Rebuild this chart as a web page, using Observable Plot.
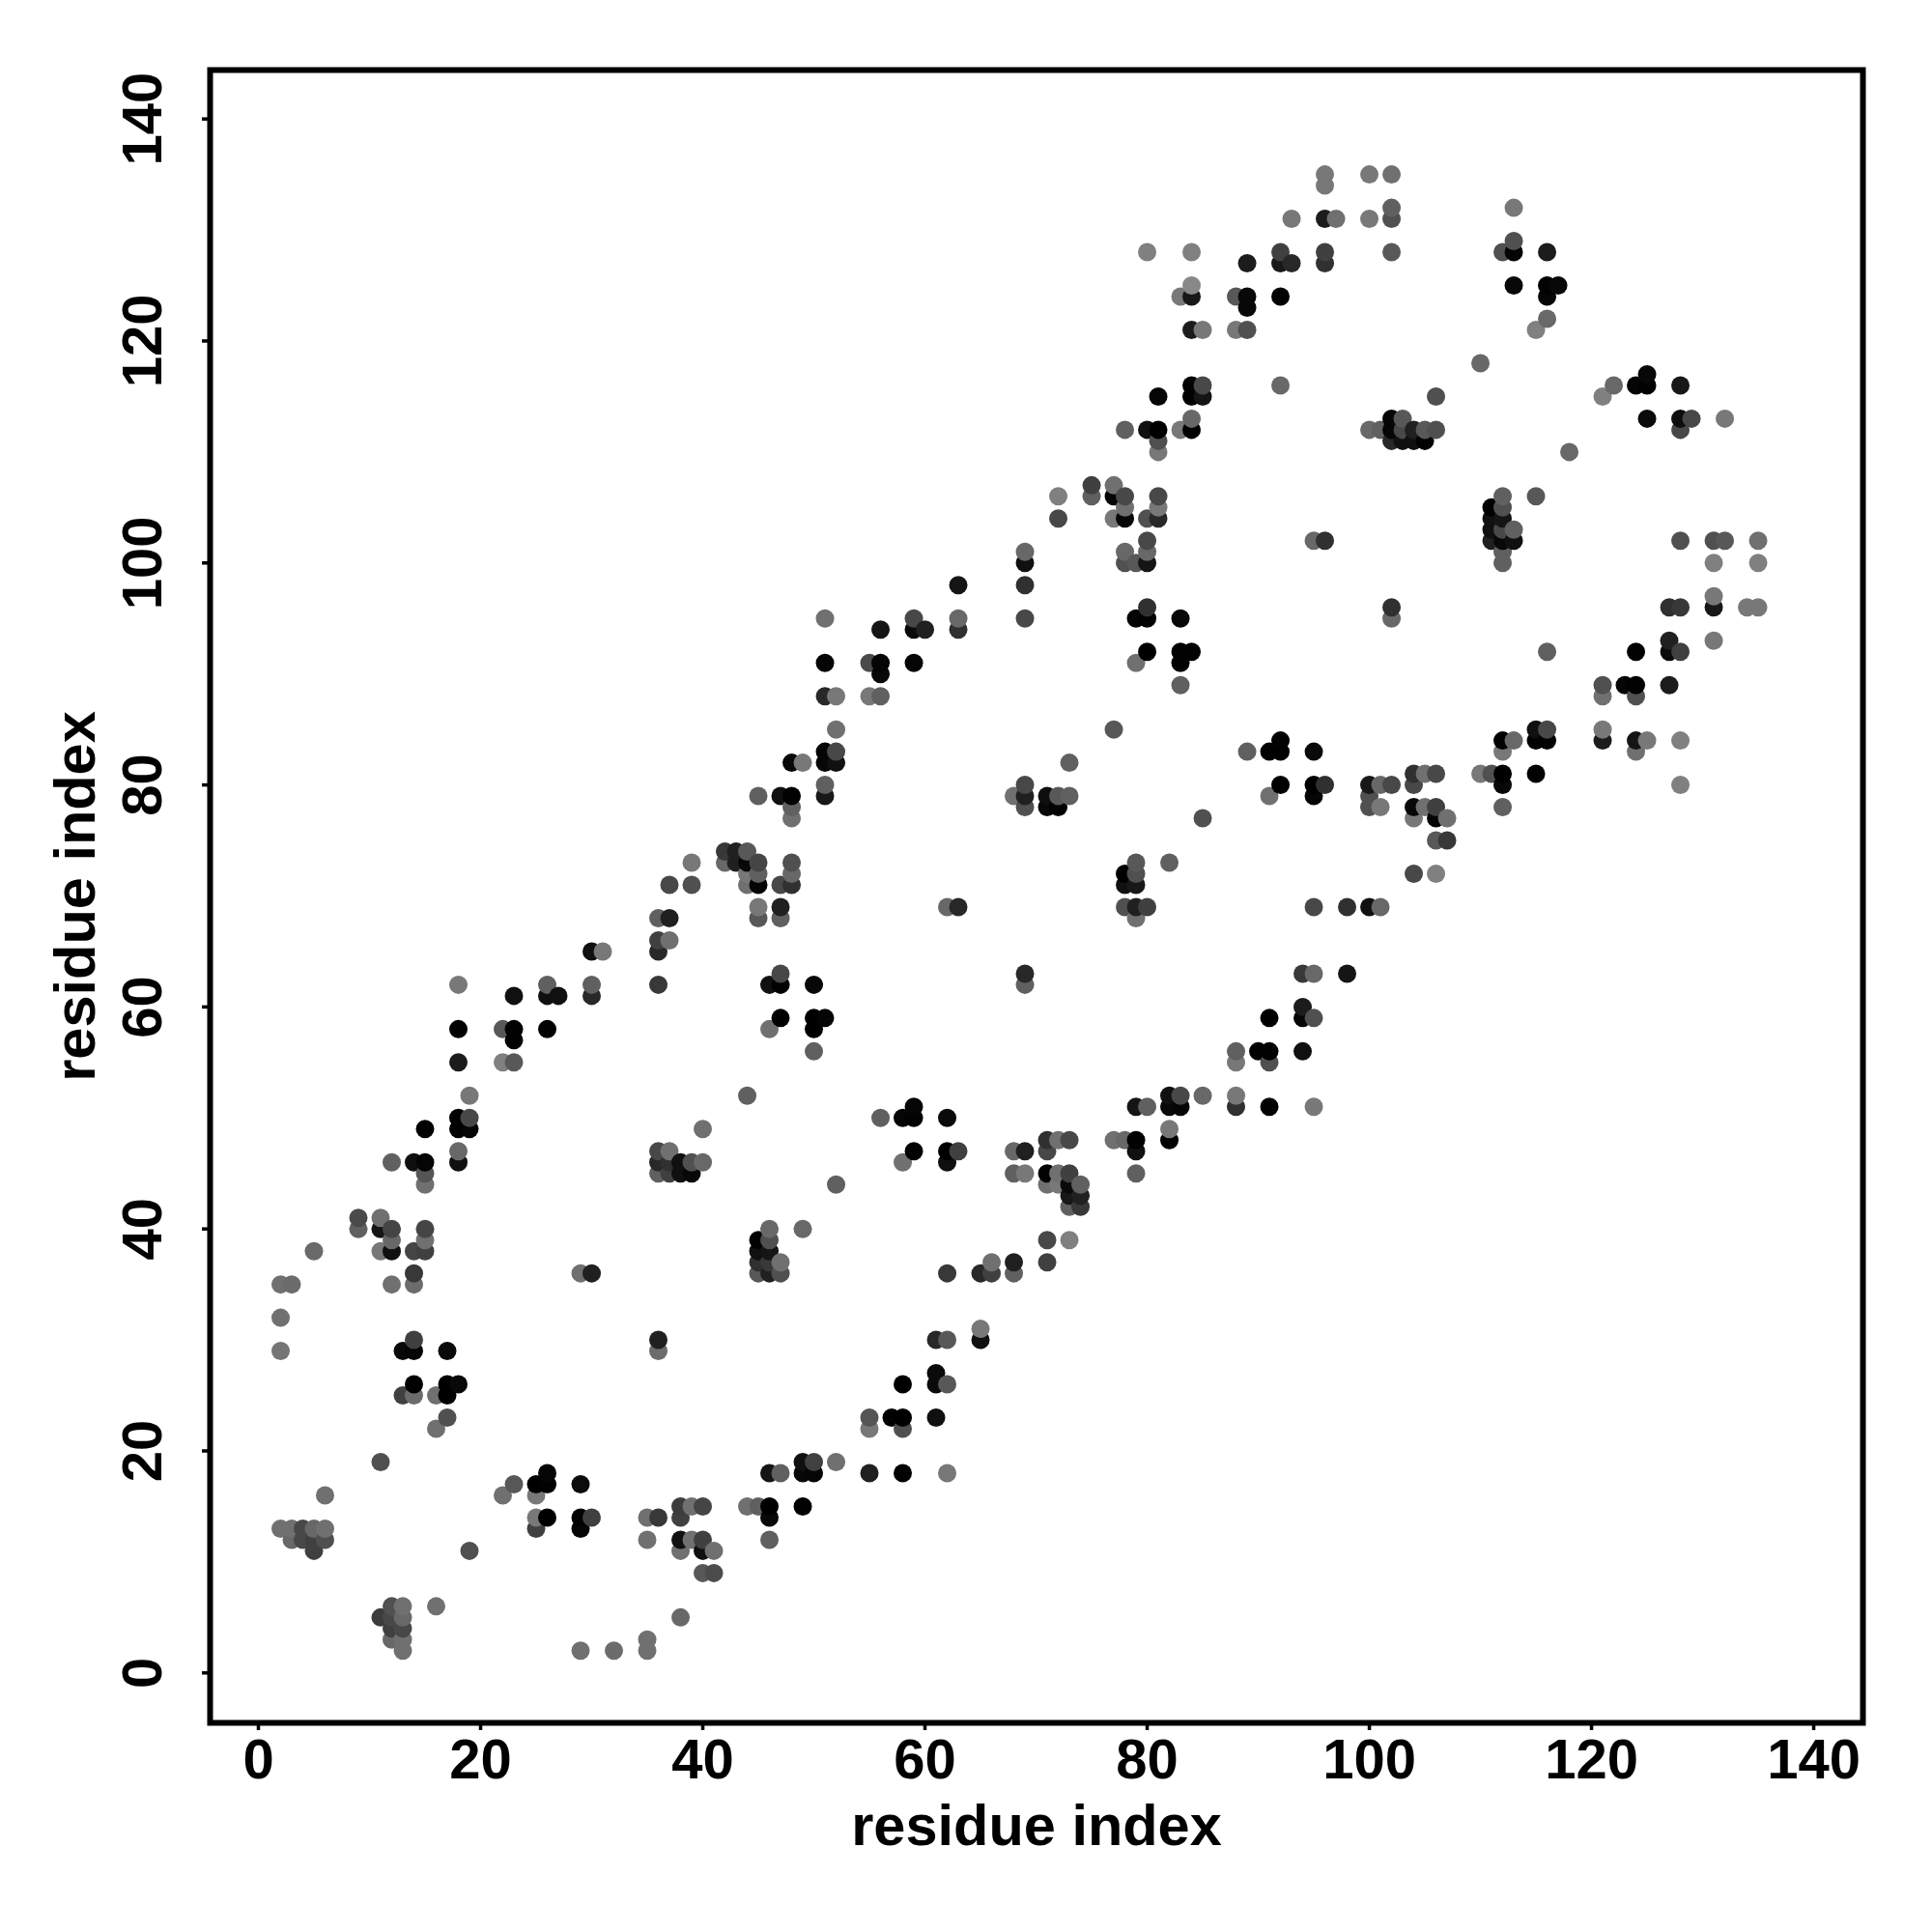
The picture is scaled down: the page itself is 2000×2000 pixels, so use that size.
<!DOCTYPE html>
<html>
<head>
<meta charset="utf-8">
<script src="https://cdn.jsdelivr.net/npm/d3@7"></script>
<script src="https://cdn.jsdelivr.net/npm/@observablehq/plot@0.6"></script>
<style>html,body{margin:0;padding:0;background:#fff}</style>
</head>
<body>
<div id="chart"></div>
<script>
const residues = [2,3,4,5,6,9,11,12,13,14,15,16,17,18,19,22,23,25,26,27,29,30,31,32,35,36,37,38,39,40,41,42,43,44,45,46,47,48,49,50,51,52,55,56,57,58,59,60,61,62,63,65,66,68,69,71,72,73,74,75,77,78,79,80,81,82,83,84,85,88,89,90,91,92,93,94,95,96,97,98,100,101,102,103,104,105,106,107,110,111,112,113,115,116,117,118,121,122,123,124,125,127,128,129,131,132,134,135];
const partners = [
[13,29,32,35],[12,13,35],[12,13],[11,12,13,38],[12,13,16],[40,41],[5,19,38,40,41],
[3,4,5,6,35,38,39,40,46],[2,3,4,5,6,25,29],[25,26,29,30,35,36,38,46],[38,39,40,44,45,46,49],
[6,22,25],[23,25,26,29],[26,46,47,49,50,55,58,62],[11,49,50,52],[16,55,58],[17,55,57,58,61],
[13,14,16,17],[14,17,18,58,61,62],[61],[2,13,14,17,36],[14,36,61,62,65],[65],[2],[2,3,12,14],
[14,29,30,45,46,47,62,65,66,68],[45,46,47,66,68,71],[5,11,12,14,15,45,46],[12,15,45,46,71,73],
[9,11,12,15,46,49],[9,11],[73,74],[73,74],[15,52,71,72,73,74],
[15,36,37,38,39,68,69,71,72,73,79],[12,14,15,18,36,37,38,39,40,58,62],[18,36,37,59,62,63,68,69,71,79],
[71,72,73,77,78,79,82],[15,18,19,40,82],[18,19,56,58,59,62],[59,79,80,82,83,88,91,95],[19,44,82,83,85,88],
[18,22,23,88,91],[50,88,90,91,94],[23],[18,22,23,26,46,50],[47,50,51,91,94,95],[94],[23,26,27,30],
[18,26,30,36,46,47,50,69],[47,69,94,95,98],[30,31,36],[36,37],[36,37,45,47,79],
[45,47,62,63,78,79,80,95,98,100,101],[37,39,44,45,47,48,78,79],[44,45,48,78,79,104,106],
[39,42,43,44,45,48,79,82],[42,43,44],[106,107],[48,85,104,106,107],[48,69,71,72,100,101,104,105,106,112],
[45,47,48,51,68,69,71,72,73,91,95,100],[51,69,92,95,96,100,101,102,104,112,128],[104,105,106,110,111,112,115],
[48,49,51,52,73],[51,52,89,91,92,95,112,124],[92,112,113,115,116,121,124,125,128],[52,77,115,116,121],
[51,52,55,56,121,124],[83,121,123,124,127],[56],[51,55,56,59,79,83],[80,83,84,116,124,127,128],[127,131],
[56,59,60,63],[51,59,63,69,79,80,83,102],[80,102,127,128,131,134,135],[131],[63,69],
[69,78,79,80,112,131,135],[69,78,80,112],[80,95,96,111,112,113,128,131,132,135],[111,112,113],
[72,77,78,80,81,111,112],[78,81,111,112],[72,75,77,78,81,112,115],[75,77],[81,118],[81,102,103,104,105],
[78,80,81,83,84,100,101,102,103,104,105,106,128],[84,102,103,125,128,129,132],[81,84,85,106,121],
[84,85,92,122,124,125,128],[125],[110],[84,85,88,89,115],[116],[89],[83,84,88,89,92,116],[84,113,116,117],
[89,92,93,96],[80,84,92,96,102,112,113,116],[113],[93,96,97,100,102],[102,113],[96],[96,100,102]
];
const shades = [
[0x70,0x75,0x70,0x70],[0x68,0x70,0x6c],[0x48,0x48],[0x40,0x40,0x68,0x6a],[0x50,0x70,0x70],[0x60,0x4a],[0x3c,0x50,0x78,0x15,0x70],
[0x68,0x40,0x48,0x50,0x70,0x10,0x68,0x45,0x60],[0x70,0x70,0x48,0x68,0x70,0x40,0x08],[0x6c,0x00,0x05,0x40,0x6c,0x38,0x45,0x10],[0x40,0x70,0x45,0x70,0x55,0x05,0x02],
[0x70,0x70,0x70],[0x50,0x00,0x00,0x0a],[0x08,0x10,0x68,0x02,0x02,0x1c,0x02,0x78],[0x50,0x05,0x48,0x78],[0x70,0x80,0x58],[0x58,0x58,0x02,0x02,0x10],
[0x40,0x78,0x78,0x00],[0x00,0x02,0x05,0x02,0x10,0x60],[0x10],[0x70,0x05,0x02,0x0c,0x70],[0x40,0x20,0x28,0x60,0x10],[0x78],[0x6c],[0x70,0x70,0x70,0x70],
[0x38,0x6c,0x20,0x60,0x28,0x48,0x38,0x28,0x40,0x60],[0x40,0x30,0x70,0x70,0x20,0x48],[0x68,0x70,0x10,0x40,0x3c,0x10,0x10],[0x70,0x70,0x08,0x50,0x50,0x78],
[0x58,0x10,0x40,0x45,0x68,0x70],[0x4c,0x70],[0x68,0x38],[0x20,0x20],[0x70,0x60,0x70,0x78,0x08,0x58],
[0x60,0x58,0x30,0x10,0x02,0x58,0x78,0x05,0x60,0x45,0x60],[0x60,0x08,0x00,0x15,0x20,0x38,0x15,0x50,0x68,0x70,0x10],[0x60,0x50,0x70,0x00,0x02,0x48,0x60,0x20,0x48,0x10],
[0x30,0x68,0x50,0x70,0x60,0x02,0x08],[0x02,0x08,0x10,0x68,0x78],[0x05,0x40,0x60,0x00,0x00,0x08],[0x05,0x18,0x60,0x08,0x05,0x28,0x05,0x70],[0x70,0x60,0x10,0x48,0x70,0x78],
[0x20,0x78,0x55,0x78,0x4a],[0x60,0x60,0x08,0x05,0x15],[0x02],[0x02,0x50,0x00,0x00,0x70,0x05],[0x02,0x02,0x05,0x05,0x0a,0x48],[0x20],[0x10,0x0a,0x0a,0x28],
[0x78,0x58,0x58,0x38,0x10,0x00,0x0a,0x68],[0x40,0x28,0x30,0x68,0x15],[0x10,0x78,0x28],[0x40,0x70],[0x60,0x20,0x60,0x68,0x70],
[0x78,0x20,0x60,0x28,0x50,0x20,0x48,0x48,0x30,0x10,0x68],[0x40,0x48,0x70,0x02,0x48,0x30,0x08,0x0e],[0x78,0x70,0x70,0x02,0x58,0x48,0x80],
[0x80,0x60,0x18,0x0a,0x40,0x48,0x60,0x60],[0x38,0x20,0x60],[0x60,0x40],[0x70,0x58,0x78,0x05,0x70],[0x68,0x50,0x10,0x00,0x50,0x68,0x08,0x70,0x48,0x60],
[0x60,0x10,0x02,0x15,0x70,0x20,0x18,0x50,0x58,0x70,0x05,0x58],[0x60,0x40,0x00,0x02,0x30,0x15,0x68,0x48,0x50,0x10,0x80],[0x28,0x78,0x48,0x78,0x50,0x00,0x05],
[0x02,0x78,0x08,0x10,0x60],[0x05,0x48,0x60,0x02,0x02,0x08,0x78,0x78],[0x02,0x02,0x68,0x02,0x02,0x1c,0x18,0x88,0x80],[0x68,0x50,0x15,0x48,0x78],
[0x30,0x78,0x78,0x60,0x78,0x58],[0x60,0x50,0x08,0x08,0x1c],[0x02],[0x02,0x50,0x02,0x00,0x70,0x02],[0x00,0x00,0x02,0x68,0x02,0x18,0x40],[0x28,0x78],
[0x10,0x05,0x1c,0x38],[0x78,0x50,0x68,0x48,0x05,0x00,0x0a,0x68],[0x30,0x30,0x30,0x40,0x1c,0x78,0x78],[0x70],[0x15,0x30],
[0x10,0x50,0x50,0x18,0x68,0x78,0x78],[0x68,0x78,0x68,0x60],[0x48,0x68,0x30,0x28,0x05,0x05,0x58,0x50,0x60,0x70],[0x10,0x48,0x58],
[0x48,0x78,0x08,0x48,0x30,0x10,0x20],[0x70,0x70,0x02,0x58],[0x80,0x58,0x05,0x40,0x48,0x50,0x50],[0x38,0x70],[0x78,0x68],[0x50,0x20,0x10,0x10,0x00],
[0x60,0x08,0x00,0x78,0x02,0x60,0x60,0x08,0x48,0x15,0x50,0x60,0x50],[0x68,0x10,0x60,0x08,0x05,0x50,0x78],[0x02,0x02,0x10,0x58,0x80],
[0x02,0x48,0x60,0x68,0x05,0x02,0x1c],[0x08],[0x68],[0x1c,0x78,0x70,0x50,0x80],[0x68],[0x05],[0x70,0x15,0x50,0x02,0x02,0x05],[0x78,0x0a,0x02,0x08],
[0x1c,0x0a,0x20,0x30],[0x80,0x80,0x40,0x38,0x50,0x48,0x0e,0x18],[0x48],[0x78,0x18,0x78,0x80,0x50],[0x58,0x78],[0x78],[0x78,0x80,0x70]
];
const axisTicks = [0,20,40,60,80,100,120,140];
const axisLabel = "residue index";

const contacts = residues.flatMap((r, k) =>
  partners[k].map((p, j) => ({x: r, y: p, gray: shades[k][j]})));

const family = "'Liberation Sans', Arial, sans-serif";
const tickFont = {fontFamily: family, fontWeight: "bold", fontSize: 58};
const titleFont = {fontFamily: family, fontWeight: "bold", fontSize: 59.5};

const plot = Plot.plot({
  width: 2000,
  height: 2000,
  marginLeft: 217,
  marginRight: 72,
  marginTop: 72,
  marginBottom: 217,
  style: {background: "#fff", color: "#000", overflow: "visible"},
  x: {domain: [-4.348, 144.43]},
  y: {domain: [-4.5, 144.41]},
  marks: [
    Plot.dot(contacts, {x: "x", y: "y", r: 9.5, fill: d => `rgb(${d.gray},${d.gray},${d.gray})`, stroke: "none"}),
    Plot.frame({stroke: "#000", strokeWidth: 6}),
    Plot.axisX({
      ticks: axisTicks, tickSize: 8, strokeWidth: 3.5, tickPadding: 8, label: null,
      ...tickFont
    }),
    Plot.axisY({
      ticks: axisTicks, tickSize: 8, strokeWidth: 3.5, tickRotate: -90, tickPadding: 43, label: null,
      ...tickFont
    }),
    Plot.text([axisLabel], {frameAnchor: "bottom", lineAnchor: "bottom", dy: 126, ...titleFont}),
    Plot.text([axisLabel], {frameAnchor: "left", textAnchor: "middle", rotate: -90, lineAnchor: "bottom", dx: -120, ...titleFont})
  ]
});
document.getElementById("chart").appendChild(plot);
</script>
</body>
</html>
